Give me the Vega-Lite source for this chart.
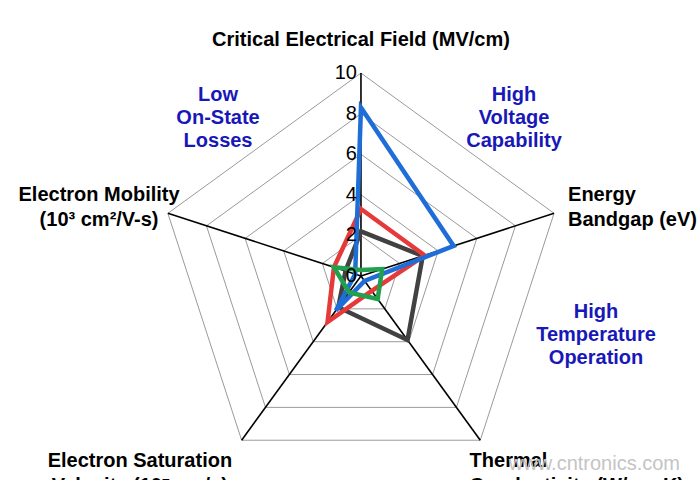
{
  "$schema": "https://vega.github.io/schema/vega-lite/v6.json",
  "width": 700,
  "height": 480,
  "padding": 0,
  "autosize": {"type": "none"},
  "background": "white",
  "config": {"view": {"stroke": null}},
  "datasets": {
    "series": [
      {"material": "Ga2O3", "axis": "Critical Electrical Field", "value": 8.3},
      {"material": "Ga2O3", "axis": "Energy Bandgap", "value": 4.8},
      {"material": "Ga2O3", "axis": "Thermal Conductivity", "value": 0.3},
      {"material": "Ga2O3", "axis": "Electron Saturation Velocity", "value": 2.1},
      {"material": "Ga2O3", "axis": "Electron Mobility", "value": 0.3},
      {"material": "GaN", "axis": "Critical Electrical Field", "value": 3.3},
      {"material": "GaN", "axis": "Energy Bandgap", "value": 3.3},
      {"material": "GaN", "axis": "Thermal Conductivity", "value": 0.9},
      {"material": "GaN", "axis": "Electron Saturation Velocity", "value": 2.8},
      {"material": "GaN", "axis": "Electron Mobility", "value": 1.4},
      {"material": "SiC", "axis": "Critical Electrical Field", "value": 2.2},
      {"material": "SiC", "axis": "Energy Bandgap", "value": 3.2},
      {"material": "SiC", "axis": "Thermal Conductivity", "value": 3.9},
      {"material": "SiC", "axis": "Electron Saturation Velocity", "value": 1.9},
      {"material": "SiC", "axis": "Electron Mobility", "value": 0.8},
      {"material": "Si", "axis": "Critical Electrical Field", "value": 0.3},
      {"material": "Si", "axis": "Energy Bandgap", "value": 1.1},
      {"material": "Si", "axis": "Thermal Conductivity", "value": 1.4},
      {"material": "Si", "axis": "Electron Saturation Velocity", "value": 1.0},
      {"material": "Si", "axis": "Electron Mobility", "value": 1.4}
    ],
    "grid": [
      {"axis": "Critical Electrical Field", "value": 2}, {"axis": "Energy Bandgap", "value": 2}, {"axis": "Thermal Conductivity", "value": 2}, {"axis": "Electron Saturation Velocity", "value": 2}, {"axis": "Electron Mobility", "value": 2},
      {"axis": "Critical Electrical Field", "value": 4}, {"axis": "Energy Bandgap", "value": 4}, {"axis": "Thermal Conductivity", "value": 4}, {"axis": "Electron Saturation Velocity", "value": 4}, {"axis": "Electron Mobility", "value": 4},
      {"axis": "Critical Electrical Field", "value": 6}, {"axis": "Energy Bandgap", "value": 6}, {"axis": "Thermal Conductivity", "value": 6}, {"axis": "Electron Saturation Velocity", "value": 6}, {"axis": "Electron Mobility", "value": 6},
      {"axis": "Critical Electrical Field", "value": 8}, {"axis": "Energy Bandgap", "value": 8}, {"axis": "Thermal Conductivity", "value": 8}, {"axis": "Electron Saturation Velocity", "value": 8}, {"axis": "Electron Mobility", "value": 8},
      {"axis": "Critical Electrical Field", "value": 10}, {"axis": "Energy Bandgap", "value": 10}, {"axis": "Thermal Conductivity", "value": 10}, {"axis": "Electron Saturation Velocity", "value": 10}, {"axis": "Electron Mobility", "value": 10}
    ],
    "spokes": [
      {"axis": "Critical Electrical Field", "value": 0}, {"axis": "Critical Electrical Field", "value": 10},
      {"axis": "Energy Bandgap", "value": 0}, {"axis": "Energy Bandgap", "value": 10},
      {"axis": "Thermal Conductivity", "value": 0}, {"axis": "Thermal Conductivity", "value": 10},
      {"axis": "Electron Saturation Velocity", "value": 0}, {"axis": "Electron Saturation Velocity", "value": 10},
      {"axis": "Electron Mobility", "value": 0}, {"axis": "Electron Mobility", "value": 10}
    ],
    "ticks": [{"value": 0}, {"value": 2}, {"value": 4}, {"value": 6}, {"value": 8}, {"value": 10}]
  },
  "layer": [
    {
      "data": {"name": "grid"},
      "transform": [
        {"calculate": "indexof(['Critical Electrical Field','Energy Bandgap','Thermal Conductivity','Electron Saturation Velocity','Electron Mobility'], datum.axis)", "as": "k"},
        {"calculate": "datum.value*sin(2*PI*datum.k/5)", "as": "x"},
        {"calculate": "datum.value*cos(2*PI*datum.k/5)", "as": "y"}
      ],
      "mark": {"type": "line", "interpolate": "linear-closed", "stroke": "#9a9a9a", "strokeWidth": 1},
      "encoding": {
        "x": {"field": "x", "type": "quantitative", "scale": {"domain": [-17.78, 16.7], "nice": false, "zero": false}, "axis": null},
        "y": {"field": "y", "type": "quantitative", "scale": {"domain": [-10.05, 13.6], "nice": false, "zero": false}, "axis": null},
        "detail": {"field": "value", "type": "nominal"},
        "order": {"field": "k", "type": "quantitative"}
      }
    },
    {
      "data": {"name": "spokes"},
      "transform": [
        {"calculate": "indexof(['Critical Electrical Field','Energy Bandgap','Thermal Conductivity','Electron Saturation Velocity','Electron Mobility'], datum.axis)", "as": "k"},
        {"calculate": "datum.value*sin(2*PI*datum.k/5)", "as": "x"},
        {"calculate": "datum.value*cos(2*PI*datum.k/5)", "as": "y"}
      ],
      "mark": {"type": "line", "stroke": "#000000", "strokeWidth": 1.6},
      "encoding": {
        "x": {"field": "x", "type": "quantitative"},
        "y": {"field": "y", "type": "quantitative"},
        "detail": {"field": "axis", "type": "nominal"},
        "order": {"field": "value", "type": "quantitative"}
      }
    },
    {
      "data": {"name": "series"},
      "transform": [
        {"filter": "datum.material === 'SiC'"},
        {"calculate": "indexof(['Critical Electrical Field','Energy Bandgap','Thermal Conductivity','Electron Saturation Velocity','Electron Mobility'], datum.axis)", "as": "k"},
        {"calculate": "datum.value*sin(2*PI*datum.k/5)", "as": "x"},
        {"calculate": "datum.value*cos(2*PI*datum.k/5)", "as": "y"}
      ],
      "mark": {"type": "line", "interpolate": "linear-closed", "stroke": "#414141", "strokeWidth": 4.5},
      "encoding": {"x": {"field": "x", "type": "quantitative"}, "y": {"field": "y", "type": "quantitative"}, "order": {"field": "k", "type": "quantitative"}}
    },
    {
      "data": {"name": "series"},
      "transform": [
        {"filter": "datum.material === 'GaN'"},
        {"calculate": "indexof(['Critical Electrical Field','Energy Bandgap','Thermal Conductivity','Electron Saturation Velocity','Electron Mobility'], datum.axis)", "as": "k"},
        {"calculate": "datum.value*sin(2*PI*datum.k/5)", "as": "x"},
        {"calculate": "datum.value*cos(2*PI*datum.k/5)", "as": "y"}
      ],
      "mark": {"type": "line", "interpolate": "linear-closed", "stroke": "#e63a3a", "strokeWidth": 4.5},
      "encoding": {"x": {"field": "x", "type": "quantitative"}, "y": {"field": "y", "type": "quantitative"}, "order": {"field": "k", "type": "quantitative"}}
    },
    {
      "data": {"name": "series"},
      "transform": [
        {"filter": "datum.material === 'Ga2O3'"},
        {"calculate": "indexof(['Critical Electrical Field','Energy Bandgap','Thermal Conductivity','Electron Saturation Velocity','Electron Mobility'], datum.axis)", "as": "k"},
        {"calculate": "datum.value*sin(2*PI*datum.k/5)", "as": "x"},
        {"calculate": "datum.value*cos(2*PI*datum.k/5)", "as": "y"}
      ],
      "mark": {"type": "line", "interpolate": "linear-closed", "stroke": "#1f6ed8", "strokeWidth": 4.5},
      "encoding": {"x": {"field": "x", "type": "quantitative"}, "y": {"field": "y", "type": "quantitative"}, "order": {"field": "k", "type": "quantitative"}}
    },
    {
      "data": {"name": "series"},
      "transform": [
        {"filter": "datum.material === 'Si'"},
        {"calculate": "indexof(['Critical Electrical Field','Energy Bandgap','Thermal Conductivity','Electron Saturation Velocity','Electron Mobility'], datum.axis)", "as": "k"},
        {"calculate": "datum.value*sin(2*PI*datum.k/5)", "as": "x"},
        {"calculate": "datum.value*cos(2*PI*datum.k/5)", "as": "y"}
      ],
      "mark": {"type": "line", "interpolate": "linear-closed", "stroke": "#22a04e", "strokeWidth": 4.5},
      "encoding": {"x": {"field": "x", "type": "quantitative"}, "y": {"field": "y", "type": "quantitative"}, "order": {"field": "k", "type": "quantitative"}}
    },
    {
      "data": {"name": "ticks"},
      "mark": {"type": "text", "align": "right", "baseline": "middle", "fontSize": 20, "font": "Liberation Sans", "fill": "#000000", "dx": -4},
      "encoding": {
        "x": {"datum": 0, "type": "quantitative"},
        "y": {"field": "value", "type": "quantitative"},
        "text": {"field": "value", "type": "quantitative"}
      }
    },
    {
      "data": {"values": [{"a": 1}]},
      "mark": {"type": "text", "align": "center", "baseline": "middle", "fontSize": 20, "font": "Liberation Sans", "fontWeight": "bold", "fill": "#000000"},
      "encoding": {"x": {"datum": 0, "type": "quantitative"}, "y": {"datum": 11.63, "type": "quantitative"}, "text": {"value": "Critical Electrical Field (MV/cm)"}}
    },
    {
      "data": {"values": [{"a": 1}]},
      "mark": {"type": "text", "align": "left", "baseline": "middle", "fontSize": 20, "font": "Liberation Sans", "fontWeight": "bold", "lineHeight": 25, "lineBreak": "\n", "fill": "#000000"},
      "encoding": {"x": {"datum": 10.2, "type": "quantitative"}, "y": {"datum": 3.99, "type": "quantitative"}, "text": {"value": "Energy\nBandgap (eV)"}}
    },
    {
      "data": {"values": [{"a": 1}]},
      "mark": {"type": "text", "align": "center", "baseline": "middle", "fontSize": 20, "font": "Liberation Sans", "fontWeight": "bold", "lineHeight": 25, "lineBreak": "\n", "fill": "#000000"},
      "encoding": {"x": {"datum": -12.9, "type": "quantitative"}, "y": {"datum": 3.99, "type": "quantitative"}, "text": {"value": "Electron Mobility\n(10³ cm²/V-s)"}}
    },
    {
      "data": {"values": [{"a": 1}]},
      "mark": {"type": "text", "align": "center", "baseline": "top", "fontSize": 20, "font": "Liberation Sans", "fontWeight": "bold", "lineHeight": 25, "lineBreak": "\n", "fill": "#000000"},
      "encoding": {"x": {"datum": -10.89, "type": "quantitative"}, "y": {"datum": -8.6, "type": "quantitative"}, "text": {"value": "Electron Saturation\nVelocity (10⁷ cm/s)"}}
    },
    {
      "data": {"values": [{"a": 1}]},
      "mark": {"type": "text", "align": "left", "baseline": "top", "fontSize": 20, "font": "Liberation Sans", "fontWeight": "bold", "lineHeight": 25, "lineBreak": "\n", "fill": "#000000"},
      "encoding": {"x": {"datum": 5.35, "type": "quantitative"}, "y": {"datum": -8.6, "type": "quantitative"}, "text": {"value": "Thermal\nConductivity (W/cm-K)"}}
    },
    {
      "data": {"values": [{"a": 1}]},
      "mark": {"type": "text", "align": "center", "baseline": "middle", "fontSize": 20, "font": "Liberation Sans", "fill": "#c4c4c4"},
      "encoding": {"x": {"datum": 11.5, "type": "quantitative"}, "y": {"datum": -9.25, "type": "quantitative"}, "text": {"value": "www.cntronics.com"}}
    },
    {
      "data": {"values": [{"a": 1}]},
      "mark": {"type": "text", "align": "center", "baseline": "middle", "fontSize": 20, "font": "Liberation Sans", "fontWeight": "bold", "lineHeight": 23, "lineBreak": "\n", "fill": "#1818b8"},
      "encoding": {"x": {"datum": -7.04, "type": "quantitative"}, "y": {"datum": 8.92, "type": "quantitative"}, "text": {"value": "Low\nOn-State\nLosses"}}
    },
    {
      "data": {"values": [{"a": 1}]},
      "mark": {"type": "text", "align": "center", "baseline": "middle", "fontSize": 20, "font": "Liberation Sans", "fontWeight": "bold", "lineHeight": 23, "lineBreak": "\n", "fill": "#1818b8"},
      "encoding": {"x": {"datum": 7.54, "type": "quantitative"}, "y": {"datum": 8.92, "type": "quantitative"}, "text": {"value": "High\nVoltage\nCapability"}}
    },
    {
      "data": {"values": [{"a": 1}]},
      "mark": {"type": "text", "align": "center", "baseline": "middle", "fontSize": 20, "font": "Liberation Sans", "fontWeight": "bold", "lineHeight": 23, "lineBreak": "\n", "fill": "#1818b8"},
      "encoding": {"x": {"datum": 11.58, "type": "quantitative"}, "y": {"datum": -1.77, "type": "quantitative"}, "text": {"value": "High\nTemperature\nOperation"}}
    }
  ]
}
